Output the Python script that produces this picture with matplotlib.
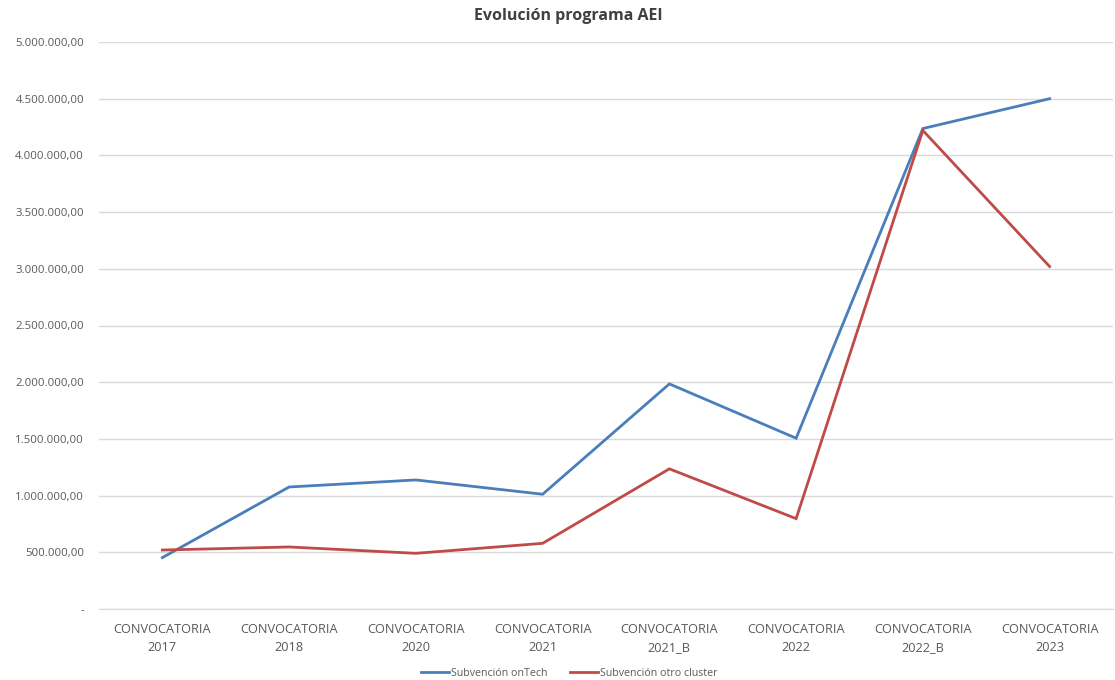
import matplotlib
matplotlib.use("Agg")
import matplotlib.pyplot as plt
from matplotlib.ticker import FuncFormatter, MultipleLocator

categories = ["CONVOCATORIA\n2017", "CONVOCATORIA\n2018", "CONVOCATORIA\n2020",
              "CONVOCATORIA\n2021", "CONVOCATORIA\n2021_B", "CONVOCATORIA\n2022",
              "CONVOCATORIA\n2022_B", "CONVOCATORIA\n2023"]
ontech = [453000, 1076000, 1138000, 1012000, 1985000, 1506000, 4237000, 4500000]
otro = [520000, 547000, 491000, 579000, 1236000, 797000, 4220000, 3020000]
series_names = ["Subvención onTech", "Subvención otro cluster"]

plt.rcParams['font.family'] = ['Open Sans', 'DejaVu Sans']

fig = plt.figure(figsize=(11.15, 6.8), dpi=100)
ax = fig.add_axes([99 / 1115, 71 / 680, 1014 / 1115, 567 / 680])

x = list(range(len(categories)))
ax.plot(x, ontech, color="#4A7EBB", lw=2.0, label=series_names[0], solid_joinstyle='miter')
ax.plot(x, otro, color="#BE4B48", lw=2.0, label=series_names[1], solid_joinstyle='miter')

ax.set_xlim(-0.5, len(categories) - 0.5)
ax.set_ylim(0, 5000000)
ax.yaxis.set_major_locator(MultipleLocator(500000))

def fmt(v, pos):
    if abs(v) < 1:
        return "-"
    s = f"{v:,.2f}"
    return s.replace(",", "X").replace(".", ",").replace("X", ".")

ax.yaxis.set_major_formatter(FuncFormatter(fmt))
ax.set_xticks(x)
ax.set_xticklabels(categories, fontsize=9.2, color="#595959", linespacing=1.5)
ax.tick_params(axis='y', labelsize=8.2, colors="#595959", length=0, pad=10.8)
ax.tick_params(axis='x', length=0, pad=10)

ax.grid(axis='y', color="#D9D9D9", lw=1.0)
ax.set_axisbelow(True)
for s in ["top", "right", "left"]:
    ax.spines[s].set_visible(False)
ax.spines["bottom"].set_color("#D9D9D9")

fig.text(568 / 1115, 0.977, "Evolución programa AEI", ha='center', va='center',
         fontsize=11.5, fontweight='bold', color="#404040")

leg = fig.legend(loc='center', bbox_to_anchor=(569 / 1115, 0.01), ncol=2, frameon=False,
                 fontsize=7.7, handlelength=2.6, columnspacing=2.1, handletextpad=0.2)
for t in leg.get_texts():
    t.set_color("#595959")

fig.savefig("out.png", dpi=100)
